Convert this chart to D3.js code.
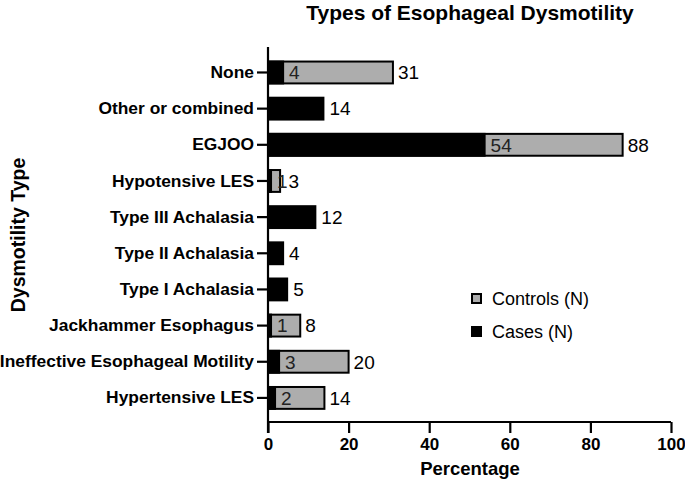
<!DOCTYPE html>
<html>
<head>
<meta charset="utf-8">
<script src="https://cdn.jsdelivr.net/npm/d3@7"></script>
<style>
  body { margin: 0; background: #fff; }
  text { font-family: "Liberation Sans", Arial, sans-serif; }
</style>
</head>
<body>
<div id="chart"></div>
<script>
const categories = ['None', 'Other or combined', 'EGJOO', 'Hypotensive LES', 'Type III Achalasia',
  'Type II Achalasia', 'Type I Achalasia', 'Jackhammer Esophagus', 'Ineffective Esophageal Motility', 'Hypertensive LES']
const cases = [4, 14, 54, 1, 12, 4, 5, 1, 3, 2]
const controls = [31, 0, 88, 3, 0, 0, 0, 8, 20, 14]
const xTicks = [0, 20, 40, 60, 80, 100]
const seriesNames = ['Controls (N)', 'Cases (N)']

const width = 685, height = 488
const grayFill = '#adadad'

const svg = d3.select('#chart').append('svg')
  .attr('width', width).attr('height', height)

const x = d3.scaleLinear().domain([0, 100]).range([268, 671])
const y = d3.scaleBand().domain(categories).range([54.4, 416])
  .paddingInner(0.34).paddingOuter(0.17)

const rows = categories.map((c, i) => ({ cat: c, cases: cases[i], controls: controls[i] }))

// controls bars (behind)
svg.selectAll('.ctrl')
  .data(rows.filter(d => d.controls > 0))
  .enter().append('rect')
  .attr('class', 'ctrl')
  .attr('x', x(0))
  .attr('y', d => y(d.cat) + 1)
  .attr('width', d => x(d.controls) - x(0))
  .attr('height', y.bandwidth() - 2)
  .style('fill', grayFill)
  .style('stroke', '#000')
  .style('stroke-width', 2)

// cases bars (front)
svg.selectAll('.case')
  .data(rows.filter(d => d.cases > 0))
  .enter().append('rect')
  .attr('class', 'case')
  .attr('x', x(0))
  .attr('y', d => y(d.cat))
  .attr('width', d => x(d.cases) - x(0))
  .attr('height', y.bandwidth())
  .style('fill', '#000')

// value labels
const caseLbl = svg.selectAll('.caseLbl')
  .data(rows.filter(d => d.cases > 0))
  .enter().append('text')
  .attr('class', 'caseLbl')
  .attr('x', d => x(d.cases) + 5)
  .attr('y', d => y(d.cat) + y.bandwidth() / 2)
  .attr('dy', '0.36em')
  .style('font-size', '19px')
  .style('fill', d => d.controls > d.cases ? '#222' : '#000')
  .text(d => d.cases)

const caseEnd = {}
caseLbl.each(function (d) { caseEnd[d.cat] = x(d.cases) + 5 + this.getComputedTextLength() + 1 })

svg.selectAll('.ctrlLbl')
  .data(rows.filter(d => d.controls > 0))
  .enter().append('text')
  .attr('class', 'ctrlLbl')
  .attr('x', d => Math.max(x(d.controls) + 5, caseEnd[d.cat] || 0))
  .attr('y', d => y(d.cat) + y.bandwidth() / 2)
  .attr('dy', '0.36em')
  .style('font-size', '19px')
  .text(d => d.controls)

// axes
const xAxis = svg.append('g')
  .attr('transform', 'translate(0,422)')
  .call(d3.axisBottom(x).tickValues(xTicks).tickSize(11).tickPadding(5).tickSizeOuter(0))
xAxis.select('.domain').attr('d', `M${x(0)},0H${x(100)}`)
xAxis.selectAll('line, path').style('stroke', '#000').style('stroke-width', 2.2)
xAxis.selectAll('text').style('font-size', '17px').style('font-weight', 'bold')
  .style('font-family', '"Liberation Sans", Arial, sans-serif').attr('fill', '#000')

const yAxis = svg.append('g')
  .attr('transform', `translate(${x(0)},0)`)
  .call(d3.axisLeft(y).tickSize(11).tickPadding(3).tickSizeOuter(0))
yAxis.select('.domain').attr('d', 'M0,47V433')
yAxis.selectAll('line, path').style('stroke', '#000').style('stroke-width', 2.2)
yAxis.selectAll('text').style('font-size', '17.4px').style('font-weight', 'bold')
  .style('font-family', '"Liberation Sans", Arial, sans-serif').attr('fill', '#000')

// titles
svg.append('text')
  .attr('x', 470).attr('y', 20)
  .attr('text-anchor', 'middle')
  .style('font-size', '21px').style('font-weight', 'bold')
  .text('Types of Esophageal Dysmotility')

svg.append('text')
  .attr('x', 470).attr('y', 475)
  .attr('text-anchor', 'middle')
  .style('font-size', '18.5px').style('font-weight', 'bold')
  .text('Percentage')

svg.append('text')
  .attr('transform', 'translate(25,235) rotate(-90)')
  .attr('text-anchor', 'middle')
  .style('font-size', '19.5px').style('font-weight', 'bold')
  .text('Dysmotility Type')

// legend
const legend = svg.selectAll('.legend')
  .data(seriesNames)
  .enter().append('g')
  .attr('class', 'legend')
  .attr('transform', (d, i) => `translate(471,${293 + i * 33})`)

legend.append('rect')
  .attr('x', (d, i) => i === 0 ? 1 : 0)
  .attr('y', (d, i) => i === 0 ? 1 : 0)
  .attr('width', (d, i) => i === 0 ? 9 : 11)
  .attr('height', (d, i) => i === 0 ? 9 : 11)
  .style('fill', (d, i) => i === 0 ? grayFill : '#000')
  .style('stroke', '#000')
  .style('stroke-width', (d, i) => i === 0 ? 2 : 0)

legend.append('text')
  .attr('x', 21).attr('y', 5.5)
  .attr('dy', '0.36em')
  .style('font-size', '18px')
  .text(d => d)
</script>
</body>
</html>
